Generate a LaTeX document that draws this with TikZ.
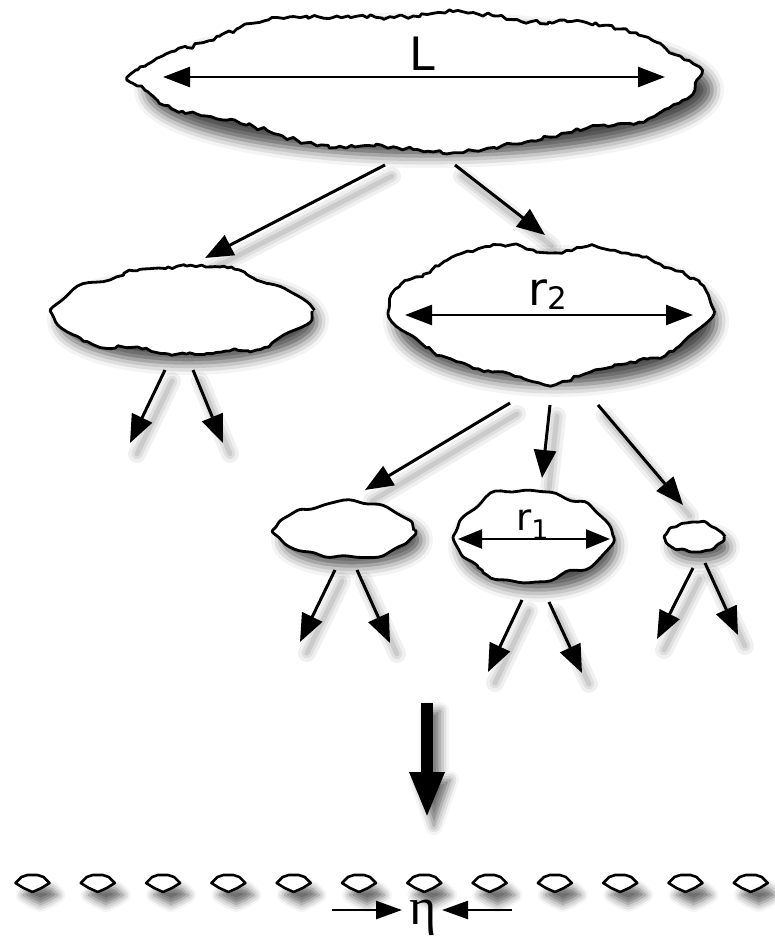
\documentclass[tikz,border=0pt]{standalone}
\usepackage{fontspec}
\setsansfont{DejaVu Sans}
\newfontfamily\grk{Liberation Serif}
\usetikzlibrary{arrows.meta,decorations.pathmorphing,shadows.blur,calc}

% A lumpy eddy: #1 centre, #2/#3 half width/height, #4 seed,
% #5/#6 segment length and amplitude of the ragged edge
\newcommand\eddy[6]{%
  \pgfmathsetseed{#4}%
  \pgfmathsetmacro\pha{360*rnd}%
  \pgfmathsetmacro\phb{360*rnd}%
  \pgfmathsetmacro\phc{360*rnd}%
  \pgfmathsetmacro\phd{360*rnd}%
  \path[blur shadow={shadow xshift=6pt, shadow yshift=-10pt,
        shadow blur radius=12pt, shadow opacity=70}]
    (#1) ellipse [x radius={#2-2}, y radius={#3-2}];
  \draw[shift={(#1)}, line width=2.8pt, fill=white, line join=round,
        decorate, decoration={random steps, segment length=#5, amplitude=#6}]
    plot[domain=0:356, samples=90, variable=\t]
      ({#2*cos(\t)*(1+0.03*sin(3*\t+\pha)+0.015*sin(11*\t+\phd))},
       {#3*sin(\t)*(abs(sin(\t))+0.002)^0.22*(1+0.06*sin(5*\t+\phb)+0.05*sin(9*\t+\phc)+0.025*sin(15*\t+\pha))})
    -- cycle;
}

\begin{document}
\begin{tikzpicture}[x=1pt,y=-1pt,
  linkshade/.style={
      preaction={-, draw=black, line width=18pt, line cap=round, opacity=0.06,
        transform canvas={shift={(7pt,-11pt)}}},
      preaction={-, draw=black, line width=11pt, line cap=round, opacity=0.07,
        transform canvas={shift={(7pt,-11pt)}}},
      preaction={-, draw=black, line width=5pt, line cap=round, opacity=0.09,
        transform canvas={shift={(7pt,-11pt)}}}},
  link/.style={line width=3pt, draw=black,
      -{Triangle[length=28pt,width=22pt,fill=black]}, linkshade},
  span/.style={line width=2.4pt, draw=black,
      {Triangle[length=27pt,width=20pt,fill=black]}-{Triangle[length=27pt,width=20pt,fill=black]}},
  lbl/.style={inner sep=0pt, text=black},
  gap/.style={line width=2.4pt, draw=black, -{Triangle[length=26pt,width=18pt,fill=black]}},
]
\useasboundingbox (0,0) rectangle (774,936);

% ---------- eddy centres ----------
\coordinate (L) at (423,80);
\coordinate (A) at (182,311);
\coordinate (B) at (550,311);
\coordinate (C) at (346,530);
\coordinate (D) at (532,536);
\coordinate (E) at (694,537);

% ---------- connector end points ----------
\coordinate (LA1) at (385,165);  \coordinate (LA2) at (205,258);
\coordinate (LB1) at (455,165);  \coordinate (LB2) at (545,235);
\coordinate (Aa1) at (165,370);  \coordinate (Aa2) at (130,443);
\coordinate (Ab1) at (193,370);  \coordinate (Ab2) at (223,443);
\coordinate (BC1) at (510,403);  \coordinate (BC2) at (365,490);
\coordinate (BD1) at (550,405);  \coordinate (BD2) at (542,478);
\coordinate (BE1) at (598,405);  \coordinate (BE2) at (683,505);
\coordinate (Ca1) at (335,570);  \coordinate (Ca2) at (300,642);
\coordinate (Cb1) at (357,570);  \coordinate (Cb2) at (390,643);
\coordinate (Da1) at (522,600);  \coordinate (Da2) at (488,672);
\coordinate (Db1) at (549,602);  \coordinate (Db2) at (582,673);
\coordinate (Ea1) at (693,568);  \coordinate (Ea2) at (657,639);
\coordinate (Eb1) at (705,563);  \coordinate (Eb2) at (738,635);

% ---------- cascade arrows ----------
\foreach \p in {LA,LB,Aa,Ab,BC,BD,BE,Ca,Cb,Da,Db,Ea,Eb}
  \draw[link] (\p1) -- (\p2);

% ---------- eddies ----------
\eddy{L}{285}{68}{11}{5pt}{2.2pt}
\eddy{A}{131}{44}{23}{5pt}{2pt}
\eddy{B}{163}{66}{5}{5pt}{2pt}
\eddy{C}{71}{28}{17}{4pt}{1.6pt}
\eddy{D}{80}{46}{29}{4pt}{1.8pt}
\eddy{E}{30}{15}{3}{3pt}{1pt}

% ---------- size markers ----------
\coordinate (Lw) at (163,77);  \coordinate (Le) at (665,77);
\coordinate (Bw) at (405,315); \coordinate (Be) at (693,315);
\coordinate (Dw) at (458,539); \coordinate (De) at (610,539);
\draw[span] (Lw) -- (Le);
\draw[span] (Bw) -- (Be);
\draw[line width=2.4pt, draw=black,
      {Triangle[length=24pt,width=19pt,fill=black]}-{Triangle[length=24pt,width=19pt,fill=black]}] (Dw) -- (De);

\node[lbl, font=\sffamily\fontsize{46}{46}\selectfont] (tL) at (422,54) {L};
\node[lbl, anchor=base west, font=\sffamily\fontsize{46}{46}\selectfont] (tB) at (528,305)
  {r\raisebox{-4pt}{\fontsize{31}{31}\selectfont 2}};
\node[lbl, anchor=base west, font=\sffamily\fontsize{37}{37}\selectfont] (tD) at (516,530)
  {r\raisebox{-9pt}{\fontsize{27}{27}\selectfont 1}};

% ---------- cascade to the dissipation scale ----------
\coordinate (big1) at (427,703);
\coordinate (big2) at (427,818);
\path[blur shadow={shadow xshift=7pt, shadow yshift=-8pt, shadow blur radius=9pt, shadow opacity=60}]
  (421,703) -- (433,703) -- (433,772) -- (443,772) -- (427,818) -- (411,772)
  -- (421,772) -- cycle;
\draw[line width=12pt, draw=black, -{Triangle[length=46pt,width=32pt,fill=black]}] (big1) -- (big2);

% ---------- smallest eddies ----------
\foreach \i in {0,...,11} {
  \draw[line width=2.6pt, draw=black, fill=white, line join=round,
        blur shadow={shadow xshift=8pt, shadow yshift=-12pt, shadow blur radius=8pt, shadow opacity=60}]
    ($(32.5+65.3*\i,883)$) ++(-17,0) -- ++(6,-6) -- ++(6,-2) -- ++(10,0) -- ++(6,2)
    -- ++(6,6) -- ++(-8,5) -- ++(-9,4) -- ++(-9,-4) -- cycle;
}

% ---------- dissipation length ----------
\coordinate (g1) at (332,910); \coordinate (g2) at (402,910);
\coordinate (h1) at (512,910); \coordinate (h2) at (442,910);
\draw[gap] (g1) -- (g2);
\draw[gap] (h1) -- (h2);
\node[lbl, anchor=base, font=\grk\fontsize{52}{52}\selectfont] (eta) at (423,924) {η};
\end{tikzpicture}
\end{document}
